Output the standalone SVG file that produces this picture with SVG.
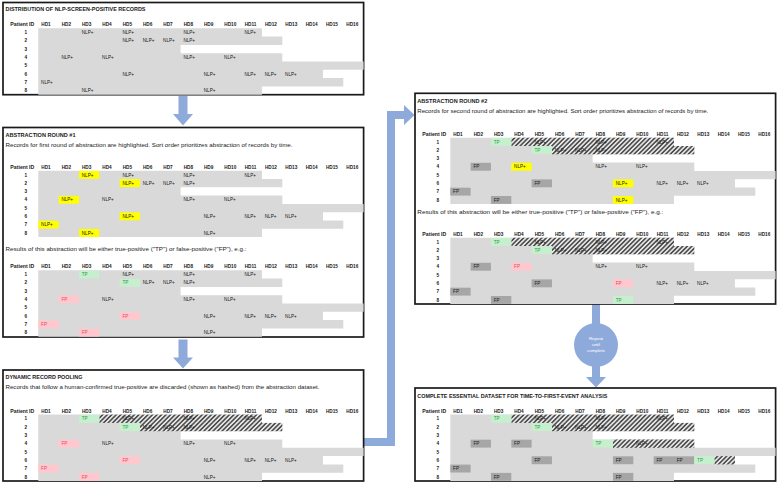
<svg xmlns="http://www.w3.org/2000/svg" xmlns:xlink="http://www.w3.org/1999/xlink" width="780" height="484" viewBox="0 0 780 484">
<style>
text{font-family:"Liberation Sans",Arial,sans-serif;fill:#1a1a1a}
.t{font-size:5px;font-weight:bold}
.d{font-size:5px}
.h{font-size:4.7px;font-weight:bold}
.pid{font-size:5.2px;font-weight:bold}
.c{font-size:4.6px}
.tp{fill:#2f9a4c}
.fp{fill:#e0505a}
.panel{fill:#fff;stroke:#1a1a1a;stroke-width:1.7}
.g{fill:#d9d9d9}
.y{fill:#ffff00}
.gr{fill:#c6efce}
.pk{fill:#ffc7ce}
.dk{fill:#a6a6a6}
.hs{fill:url(#hatch)}
.arrow{fill:#8eaadb}
.w{fill:#fff;font-size:4.4px}
</style>
<defs>
<pattern id="hatch" patternUnits="userSpaceOnUse" width="3.2" height="3.2" patternTransform="rotate(45)">
<rect width="3.2" height="3.2" fill="#e6e6e6"/>
<line x1="0.8" y1="0" x2="0.8" y2="3.2" stroke="#2a2a2a" stroke-width="1.3"/>
</pattern>
<g id="grid">
<path class="g" d="M0 0H223.67V8.3H244V16.6H142.33V24.9H244V33.2H325.33V41.5H284.67V49.8H305V58.1H223.67V66.4H0Z"/>
</g>
<g id="hdr">
<text class="pid" x="-4" y="-2" text-anchor="end">Patient ID</text>
<text class="h" x="3" y="-2">HD1</text>
<text class="h" x="23.33" y="-2">HD2</text>
<text class="h" x="43.67" y="-2">HD3</text>
<text class="h" x="64" y="-2">HD4</text>
<text class="h" x="84.33" y="-2">HD5</text>
<text class="h" x="104.67" y="-2">HD6</text>
<text class="h" x="125" y="-2">HD7</text>
<text class="h" x="145.33" y="-2">HD8</text>
<text class="h" x="165.67" y="-2">HD9</text>
<text class="h" x="186" y="-2">HD10</text>
<text class="h" x="206.33" y="-2">HD11</text>
<text class="h" x="226.67" y="-2">HD12</text>
<text class="h" x="247" y="-2">HD13</text>
<text class="h" x="267.33" y="-2">HD14</text>
<text class="h" x="287.67" y="-2">HD15</text>
<text class="h" x="308" y="-2">HD16</text>
<g text-anchor="middle">
<text class="h" x="-12.6" y="5.9">1</text>
<text class="h" x="-12.6" y="14.2">2</text>
<text class="h" x="-12.6" y="22.5">3</text>
<text class="h" x="-12.6" y="30.8">4</text>
<text class="h" x="-12.6" y="39.1">5</text>
<text class="h" x="-12.6" y="47.4">6</text>
<text class="h" x="-12.6" y="55.7">7</text>
<text class="h" x="-12.6" y="64">8</text>
</g>
</g>
<g id="nlp">
<text class="c" x="43.47" y="5.9">NLP+</text><text class="c" x="84.13" y="5.9">NLP+</text><text class="c" x="145.13" y="5.9">NLP+</text><text class="c" x="206.13" y="5.9">NLP+</text>
<text class="c" x="84.13" y="14.2">NLP+</text><text class="c" x="104.47" y="14.2">NLP+</text><text class="c" x="124.8" y="14.2">NLP+</text><text class="c" x="145.13" y="14.2">NLP+</text>
<text class="c" x="23.13" y="30.8">NLP+</text><text class="c" x="63.8" y="30.8">NLP+</text><text class="c" x="145.13" y="30.8">NLP+</text><text class="c" x="185.8" y="30.8">NLP+</text>
<text class="c" x="84.13" y="47.4">NLP+</text><text class="c" x="165.47" y="47.4">NLP+</text><text class="c" x="206.13" y="47.4">NLP+</text><text class="c" x="226.47" y="47.4">NLP+</text><text class="c" x="246.8" y="47.4">NLP+</text>
<text class="c" x="2.8" y="55.7">NLP+</text>
<text class="c" x="43.47" y="64">NLP+</text><text class="c" x="165.47" y="64">NLP+</text>
</g>
<g id="hat">
<rect class="hs" x="61" y="0" width="162.67" height="8.3"/>
<rect class="hs" x="101.67" y="8.3" width="142.33" height="8.3"/>
</g>
<g id="top">
<rect class="gr" x="40.67" y="0.2" width="20.33" height="7.9"/>
<rect class="gr" x="81.33" y="8.5" width="20.33" height="7.9"/>
<text class="c tp" x="43.47" y="5.9">TP</text><text class="c" x="84.13" y="5.9">NLP+</text><text class="c" x="145.13" y="5.9">NLP+</text><text class="c" x="206.13" y="5.9">NLP+</text>
<text class="c tp" x="84.13" y="14.2">TP</text><text class="c" x="104.47" y="14.2">NLP+</text><text class="c" x="124.8" y="14.2">NLP+</text><text class="c" x="145.13" y="14.2">NLP+</text>
</g>
<g id="bot">
<rect class="pk" x="20.33" y="25.1" width="20.33" height="7.9"/>
<rect class="pk" x="81.33" y="41.7" width="20.33" height="7.9"/>
<rect class="pk" x="0" y="50" width="20.33" height="7.9"/>
<rect class="pk" x="40.67" y="58.3" width="20.33" height="7.9"/>
<text class="c fp" x="23.13" y="30.8">FP</text><text class="c" x="63.8" y="30.8">NLP+</text><text class="c" x="145.13" y="30.8">NLP+</text><text class="c" x="185.8" y="30.8">NLP+</text>
<text class="c fp" x="84.13" y="47.4">FP</text><text class="c" x="165.47" y="47.4">NLP+</text><text class="c" x="206.13" y="47.4">NLP+</text><text class="c" x="226.47" y="47.4">NLP+</text><text class="c" x="246.8" y="47.4">NLP+</text>
<text class="c fp" x="2.8" y="55.7">FP</text>
<text class="c fp" x="43.47" y="64">FP</text><text class="c" x="165.47" y="64">NLP+</text>
</g>
<g id="dkb">
<rect class="dk" x="20.33" y="25.1" width="20.33" height="7.9"/>
<rect class="dk" x="81.33" y="41.7" width="20.33" height="7.9"/>
<rect class="dk" x="0" y="50" width="20.33" height="7.9"/>
<rect class="dk" x="40.67" y="58.3" width="20.33" height="7.9"/>
<text class="c" x="23.13" y="30.8">FP</text>
<text class="c" x="84.13" y="47.4">FP</text>
<text class="c" x="2.8" y="55.7">FP</text>
<text class="c" x="43.47" y="64">FP</text>
</g>
</defs>

<g id="connectors" class="arrow">
<polygon points="178.5,96 187.5,96 187.5,114 193,114 183,125.5 173,114 178.5,114"/>
<polygon points="178.5,339.5 187.5,339.5 187.5,357.5 193,357.5 183,368.5 173,357.5 178.5,357.5"/>
<polygon points="363.5,438 387,438 387,111 404,111 404,105 414.5,115 404,125 404,119 395,119 395,446 363.5,446"/>
<polygon points="592,304.5 600,304.5 600,324 592,324"/>
<polygon points="592,366 600,366 600,377 606,377 596,387.5 586,377 592,377"/>
</g>

<g id="panel-distribution">
<rect class="panel" x="3" y="2.5" width="360.6" height="92.2"/>
<text class="t" x="5.5" y="10.8" textLength="140" lengthAdjust="spacingAndGlyphs">DISTRIBUTION OF NLP-SCREEN-POSITIVE RECORDS</text>
<g transform="translate(38.3,28.3)">
<use xlink:href="#grid"/><use xlink:href="#hdr"/><use xlink:href="#nlp"/>
</g>
</g>

<g id="panel-round1">
<rect class="panel" x="3" y="127.5" width="360.6" height="209.5"/>
<text class="t" x="5.5" y="136.8" textLength="70" lengthAdjust="spacingAndGlyphs">ABSTRACTION ROUND #1</text>
<text class="d" x="5.5" y="146.8" textLength="287" lengthAdjust="spacingAndGlyphs">Records for first round of abstraction are highlighted. Sort order prioritizes abstraction of records by time.</text>
<g transform="translate(38.3,170.7)">
<use xlink:href="#grid"/><use xlink:href="#hdr"/>
<rect class="y" x="40.67" y="0.2" width="20.33" height="7.9"/>
<rect class="y" x="81.33" y="8.5" width="20.33" height="7.9"/>
<rect class="y" x="20.33" y="25.1" width="20.33" height="7.9"/>
<rect class="y" x="81.33" y="41.7" width="20.33" height="7.9"/>
<rect class="y" x="0" y="50" width="20.33" height="7.9"/>
<rect class="y" x="40.67" y="58.3" width="20.33" height="7.9"/>
<use xlink:href="#nlp"/>
</g>
<text class="d" x="5.5" y="251" textLength="241" lengthAdjust="spacingAndGlyphs">Results of this abstraction will be either true-positive ("TP") or false-positive ("FP"), e.g.:</text>
<g transform="translate(38.3,270.3)">
<use xlink:href="#grid"/><use xlink:href="#hdr"/><use xlink:href="#top"/><use xlink:href="#bot"/>
</g>
</g>

<g id="panel-pooling">
<rect class="panel" x="3" y="370" width="360.6" height="111"/>
<text class="t" x="5.5" y="379.1" textLength="77" lengthAdjust="spacingAndGlyphs">DYNAMIC RECORD POOLING</text>
<text class="d" x="5.5" y="388.5" textLength="314" lengthAdjust="spacingAndGlyphs">Records that follow a human-confirmed true-positive are discarded (shown as hashed) from the abstraction dataset.</text>
<g transform="translate(38.3,414.6)">
<use xlink:href="#grid"/><use xlink:href="#hdr"/><use xlink:href="#hat"/><use xlink:href="#top"/><use xlink:href="#bot"/>
</g>
</g>

<g id="panel-round2">
<rect class="panel" x="415" y="93.3" width="360.6" height="210.7"/>
<text class="t" x="417.3" y="102.8" textLength="70" lengthAdjust="spacingAndGlyphs">ABSTRACTION ROUND #2</text>
<text class="d" x="417.3" y="112.5" textLength="291" lengthAdjust="spacingAndGlyphs">Records for second round of abstraction are highlighted. Sort order prioritizes abstraction of records by time.</text>
<g transform="translate(450.3,137.7)">
<use xlink:href="#grid"/><use xlink:href="#hdr"/><use xlink:href="#hat"/><use xlink:href="#top"/><use xlink:href="#dkb"/>
<rect class="y" x="61" y="25.1" width="20.33" height="7.9"/>
<rect class="y" x="162.67" y="41.7" width="20.33" height="7.9"/>
<rect class="y" x="162.67" y="58.3" width="20.33" height="7.9"/>
<text class="c" x="63.8" y="30.8">NLP+</text><text class="c" x="145.13" y="30.8">NLP+</text><text class="c" x="185.8" y="30.8">NLP+</text>
<text class="c" x="165.47" y="47.4">NLP+</text><text class="c" x="206.13" y="47.4">NLP+</text><text class="c" x="226.47" y="47.4">NLP+</text><text class="c" x="246.8" y="47.4">NLP+</text>
<text class="c" x="165.47" y="64">NLP+</text>
</g>
<text class="d" x="417.3" y="213.5" textLength="246" lengthAdjust="spacingAndGlyphs">Results of this abstraction will be either true-positive ("TP") or false-positive ("FP"), e.g.:</text>
<g transform="translate(450.3,237.7)">
<use xlink:href="#grid"/><use xlink:href="#hdr"/><use xlink:href="#hat"/><use xlink:href="#top"/><use xlink:href="#dkb"/>
<rect class="pk" x="61" y="25.1" width="20.33" height="7.9"/>
<rect class="pk" x="162.67" y="41.7" width="20.33" height="7.9"/>
<rect class="gr" x="162.67" y="58.3" width="20.33" height="7.9"/>
<text class="c fp" x="63.8" y="30.8">FP</text><text class="c" x="145.13" y="30.8">NLP+</text><text class="c" x="185.8" y="30.8">NLP+</text>
<text class="c fp" x="165.47" y="47.4">FP</text><text class="c" x="206.13" y="47.4">NLP+</text><text class="c" x="226.47" y="47.4">NLP+</text><text class="c" x="246.8" y="47.4">NLP+</text>
<text class="c tp" x="165.47" y="64">TP</text>
</g>
</g>

<g id="repeat-until-complete">
<circle cx="596" cy="345" r="22" fill="#8eaadb"/>
<text class="w" x="596" y="340" text-anchor="middle">Repeat</text>
<text class="w" x="596" y="346.2" text-anchor="middle">until</text>
<text class="w" x="596" y="352.4" text-anchor="middle">complete</text>
</g>

<g id="panel-complete">
<rect class="panel" x="415" y="388" width="360.6" height="93"/>
<text class="t" x="417.3" y="397.8" textLength="190" lengthAdjust="spacingAndGlyphs">COMPLETE ESSENTIAL DATASET FOR TIME-TO-FIRST-EVENT ANALYSIS</text>
<g transform="translate(450.3,414.6)">
<use xlink:href="#grid"/><use xlink:href="#hdr"/><use xlink:href="#hat"/><use xlink:href="#top"/><use xlink:href="#dkb"/>
<rect class="dk" x="61" y="25.1" width="20.33" height="7.9"/>
<rect class="gr" x="142.33" y="25.1" width="20.33" height="7.9"/>
<rect class="hs" x="162.67" y="24.9" width="81.33" height="8.3"/>
<rect class="dk" x="162.67" y="41.7" width="20.33" height="7.9"/>
<rect class="dk" x="203.33" y="41.7" width="20.33" height="7.9"/>
<rect class="dk" x="223.67" y="41.7" width="20.33" height="7.9"/>
<rect class="gr" x="244" y="41.7" width="20.33" height="7.9"/>
<rect class="hs" x="264.33" y="41.5" width="20.33" height="8.3"/>
<rect class="dk" x="162.67" y="58.3" width="20.33" height="7.9"/>
<text class="c" x="63.8" y="30.8">FP</text><text class="c tp" x="145.13" y="30.8">TP</text><text class="c" x="185.8" y="30.8">NLP+</text>
<text class="c" x="165.47" y="47.4">FP</text><text class="c" x="206.13" y="47.4">FP</text><text class="c" x="226.47" y="47.4">FP</text><text class="c tp" x="246.8" y="47.4">TP</text>
<text class="c" x="165.47" y="64">FP</text>
</g>
</g>
</svg>
